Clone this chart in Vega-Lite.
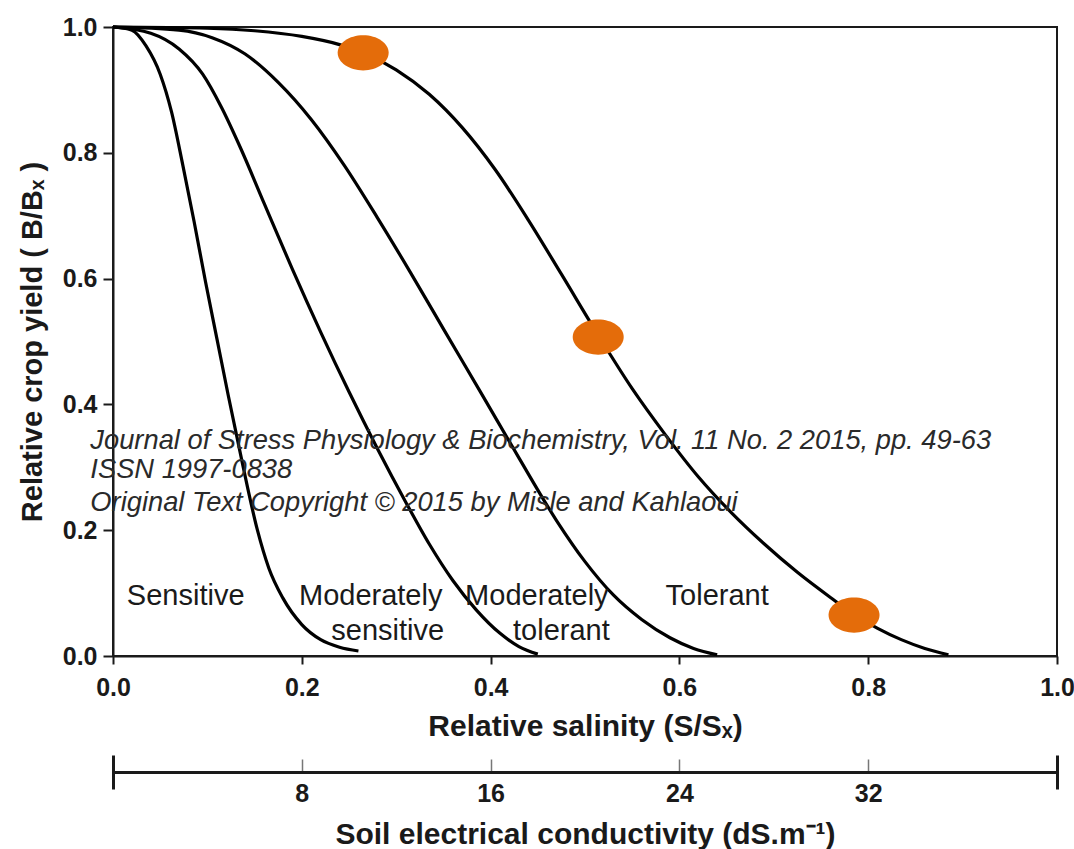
{
  "$schema": "https://vega.github.io/schema/vega-lite/v6.json",
  "width": 944,
  "height": 629,
  "autosize": {"type": "none"},
  "padding": {"left": 113, "top": 27, "right": 17, "bottom": 193},
  "background": "white",
  "config": {
    "view": {"stroke": "#1a1a1a", "strokeWidth": 2},
    "font": "Liberation Sans"
  },
  "layer": [
    {
      "encoding": {
        "x": {
          "field": "s", "type": "quantitative",
          "scale": {"domain": [0, 1], "nice": false},
          "axis": {
            "values": [0, 0.2, 0.4, 0.6, 0.8, 1.0], "format": ".1f", "grid": false, "labelFlush": false,
            "tickSize": 8, "tickWidth": 2, "tickColor": "#1a1a1a",
            "domainColor": "#1a1a1a", "domainWidth": 2,
            "labelPadding": 11, "labelFont": "Liberation Sans", "labelFontWeight": "bold", "labelFontSize": 25, "labelColor": "#1a1a1a",
            "title": "Relative salinity (S/Sₓ)", "titleFont": "Liberation Sans", "titleFontWeight": "bold", "titleFontSize": 30, "titleColor": "#1a1a1a", "titlePadding": 11
          }
        },
        "y": {
          "field": "yield", "type": "quantitative",
          "scale": {"domain": [0, 1], "nice": false},
          "axis": {
            "values": [0, 0.2, 0.4, 0.6, 0.8, 1.0], "format": ".1f", "grid": false, "labelFlush": false,
            "tickSize": 10, "tickWidth": 2, "tickColor": "#1a1a1a",
            "domainColor": "#1a1a1a", "domainWidth": 2,
            "labelPadding": 6, "labelFont": "Liberation Sans", "labelFontWeight": "bold", "labelFontSize": 25, "labelColor": "#1a1a1a",
            "title": "Relative crop yield ( B/Bₓ )", "titleFont": "Liberation Sans", "titleFontWeight": "bold", "titleFontSize": 29, "titleColor": "#1a1a1a", "titlePadding": 15
          }
        }
      },
      "layer": [
        {
          "data": {"values": [
            {"cls": "Sensitive", "s": 0, "yield": 1},
            {"cls": "Sensitive", "s": 0.02, "yield": 0.995},
            {"cls": "Sensitive", "s": 0.035, "yield": 0.97},
            {"cls": "Sensitive", "s": 0.05, "yield": 0.925},
            {"cls": "Sensitive", "s": 0.062, "yield": 0.865},
            {"cls": "Sensitive", "s": 0.074, "yield": 0.78},
            {"cls": "Sensitive", "s": 0.086, "yield": 0.69},
            {"cls": "Sensitive", "s": 0.098, "yield": 0.595},
            {"cls": "Sensitive", "s": 0.11, "yield": 0.505},
            {"cls": "Sensitive", "s": 0.122, "yield": 0.415},
            {"cls": "Sensitive", "s": 0.137, "yield": 0.307},
            {"cls": "Sensitive", "s": 0.153, "yield": 0.2},
            {"cls": "Sensitive", "s": 0.165, "yield": 0.14},
            {"cls": "Sensitive", "s": 0.18, "yield": 0.092},
            {"cls": "Sensitive", "s": 0.2, "yield": 0.05},
            {"cls": "Sensitive", "s": 0.22, "yield": 0.026},
            {"cls": "Sensitive", "s": 0.24, "yield": 0.014},
            {"cls": "Sensitive", "s": 0.26, "yield": 0.008},
            {"cls": "Moderately sensitive", "s": 0, "yield": 1},
            {"cls": "Moderately sensitive", "s": 0.04, "yield": 0.99},
            {"cls": "Moderately sensitive", "s": 0.07, "yield": 0.965},
            {"cls": "Moderately sensitive", "s": 0.095, "yield": 0.925},
            {"cls": "Moderately sensitive", "s": 0.115, "yield": 0.872},
            {"cls": "Moderately sensitive", "s": 0.135, "yield": 0.808},
            {"cls": "Moderately sensitive", "s": 0.16, "yield": 0.72},
            {"cls": "Moderately sensitive", "s": 0.19, "yield": 0.615},
            {"cls": "Moderately sensitive", "s": 0.22, "yield": 0.515},
            {"cls": "Moderately sensitive", "s": 0.25, "yield": 0.42},
            {"cls": "Moderately sensitive", "s": 0.28, "yield": 0.33},
            {"cls": "Moderately sensitive", "s": 0.31, "yield": 0.245},
            {"cls": "Moderately sensitive", "s": 0.335, "yield": 0.178},
            {"cls": "Moderately sensitive", "s": 0.36, "yield": 0.12},
            {"cls": "Moderately sensitive", "s": 0.385, "yield": 0.073},
            {"cls": "Moderately sensitive", "s": 0.41, "yield": 0.036},
            {"cls": "Moderately sensitive", "s": 0.43, "yield": 0.015},
            {"cls": "Moderately sensitive", "s": 0.45, "yield": 0.003},
            {"cls": "Moderately tolerant", "s": 0, "yield": 1},
            {"cls": "Moderately tolerant", "s": 0.07, "yield": 0.995},
            {"cls": "Moderately tolerant", "s": 0.105, "yield": 0.983},
            {"cls": "Moderately tolerant", "s": 0.14, "yield": 0.957},
            {"cls": "Moderately tolerant", "s": 0.175, "yield": 0.912},
            {"cls": "Moderately tolerant", "s": 0.21, "yield": 0.853},
            {"cls": "Moderately tolerant", "s": 0.245, "yield": 0.78},
            {"cls": "Moderately tolerant", "s": 0.28, "yield": 0.697},
            {"cls": "Moderately tolerant", "s": 0.315, "yield": 0.61},
            {"cls": "Moderately tolerant", "s": 0.35, "yield": 0.52},
            {"cls": "Moderately tolerant", "s": 0.39, "yield": 0.418},
            {"cls": "Moderately tolerant", "s": 0.43, "yield": 0.315},
            {"cls": "Moderately tolerant", "s": 0.47, "yield": 0.215},
            {"cls": "Moderately tolerant", "s": 0.5, "yield": 0.15},
            {"cls": "Moderately tolerant", "s": 0.53, "yield": 0.097},
            {"cls": "Moderately tolerant", "s": 0.56, "yield": 0.058},
            {"cls": "Moderately tolerant", "s": 0.59, "yield": 0.029},
            {"cls": "Moderately tolerant", "s": 0.615, "yield": 0.012},
            {"cls": "Moderately tolerant", "s": 0.64, "yield": 0.002},
            {"cls": "Tolerant", "s": 0, "yield": 1},
            {"cls": "Tolerant", "s": 0.1, "yield": 0.998},
            {"cls": "Tolerant", "s": 0.15, "yield": 0.994},
            {"cls": "Tolerant", "s": 0.2, "yield": 0.985},
            {"cls": "Tolerant", "s": 0.24, "yield": 0.972},
            {"cls": "Tolerant", "s": 0.265, "yield": 0.959},
            {"cls": "Tolerant", "s": 0.3, "yield": 0.932},
            {"cls": "Tolerant", "s": 0.335, "yield": 0.893},
            {"cls": "Tolerant", "s": 0.37, "yield": 0.84},
            {"cls": "Tolerant", "s": 0.405, "yield": 0.773},
            {"cls": "Tolerant", "s": 0.44, "yield": 0.693},
            {"cls": "Tolerant", "s": 0.475, "yield": 0.607},
            {"cls": "Tolerant", "s": 0.514, "yield": 0.51},
            {"cls": "Tolerant", "s": 0.55, "yield": 0.425},
            {"cls": "Tolerant", "s": 0.585, "yield": 0.352},
            {"cls": "Tolerant", "s": 0.62, "yield": 0.285},
            {"cls": "Tolerant", "s": 0.655, "yield": 0.228},
            {"cls": "Tolerant", "s": 0.69, "yield": 0.178},
            {"cls": "Tolerant", "s": 0.725, "yield": 0.133},
            {"cls": "Tolerant", "s": 0.76, "yield": 0.093},
            {"cls": "Tolerant", "s": 0.785, "yield": 0.066},
            {"cls": "Tolerant", "s": 0.81, "yield": 0.044},
            {"cls": "Tolerant", "s": 0.835, "yield": 0.026},
            {"cls": "Tolerant", "s": 0.86, "yield": 0.012},
            {"cls": "Tolerant", "s": 0.885, "yield": 0.002}
          ]},
          "mark": {"type": "line", "interpolate": "monotone", "stroke": "#000000", "strokeWidth": 3.2},
          "encoding": {"detail": {"field": "cls"}}
        },
        {
          "data": {"values": [
            {"label": "Sensitive", "s": 0.077, "yield": 0.095},
            {"label": "Moderately", "s": 0.273, "yield": 0.095},
            {"label": "sensitive", "s": 0.291, "yield": 0.04},
            {"label": "Moderately", "s": 0.449, "yield": 0.095},
            {"label": "tolerant", "s": 0.475, "yield": 0.04},
            {"label": "Tolerant", "s": 0.64, "yield": 0.095}
          ]},
          "mark": {"type": "text", "font": "Liberation Sans", "fontSize": 29, "color": "#1a1a1a", "align": "center", "baseline": "middle"},
          "encoding": {"text": {"field": "label"}}
        },
        {
          "data": {"values": [
            {"line": "Journal of Stress Physiology & Biochemistry, Vol. 11 No. 2 2015, pp. 49-63", "s": -0.024, "yield": 0.342},
            {"line": "ISSN 1997-0838", "s": -0.024, "yield": 0.296},
            {"line": "Original Text Copyright © 2015 by Misle and Kahlaoui", "s": -0.024, "yield": 0.243}
          ]},
          "mark": {"type": "text", "font": "Liberation Sans", "fontSize": 27.3, "fontStyle": "italic", "color": "#2a2a2a", "align": "left", "baseline": "middle"},
          "encoding": {"text": {"field": "line"}}
        },
        {
          "data": {"values": [
            {"s": 0.265, "yield": 0.959},
            {"s": 0.514, "yield": 0.507},
            {"s": 0.785, "yield": 0.065}
          ]},
          "mark": {"type": "point", "shape": "M -1 0 A 1 0.69 0 1 0 1 0 A 1 0.69 0 1 0 -1 0 Z", "size": 2601, "filled": true, "fill": "#E46C0A", "stroke": null, "opacity": 1}
        }
      ]
    },
    {
      "data": {"values": [{"ec": 0}, {"ec": 8}, {"ec": 16}, {"ec": 24}, {"ec": 32}, {"ec": 40}]},
      "mark": {"type": "point", "opacity": 0},
      "encoding": {
        "x": {
          "field": "ec", "type": "quantitative",
          "scale": {"domain": [0, 40], "nice": false},
          "axis": {
            "orient": "bottom", "offset": 116, "values": [8, 16, 24, 32], "grid": false, "labelFlush": false,
            "ticks": true, "tickSize": -13, "tickWidth": 1.5, "tickColor": "#777777",
            "domainColor": "#1a1a1a", "domainWidth": 3,
            "labelPadding": 22, "labelFont": "Liberation Sans", "labelFontWeight": "bold", "labelFontSize": 25, "labelColor": "#1a1a1a",
            "title": "Soil electrical conductivity (dS.m⁻¹)", "titleFont": "Liberation Sans", "titleFontWeight": "bold", "titleFontSize": 30, "titleColor": "#1a1a1a", "titlePadding": 13
          }
        }
      }
    },
    {
      "data": {"values": [{"ec": 0}, {"ec": 40}]},
      "mark": {"type": "point", "opacity": 0},
      "encoding": {
        "x": {
          "field": "ec", "type": "quantitative",
          "scale": {"domain": [0, 40], "nice": false},
          "axis": {
            "orient": "bottom", "offset": 99, "values": [0, 40], "grid": false,
            "domain": false, "labels": false, "title": null,
            "ticks": true, "tickSize": 34, "tickWidth": 3, "tickColor": "#1a1a1a"
          }
        }
      }
    }
  ],
  "resolve": {"scale": {"x": "independent"}, "axis": {"x": "independent"}}
}
